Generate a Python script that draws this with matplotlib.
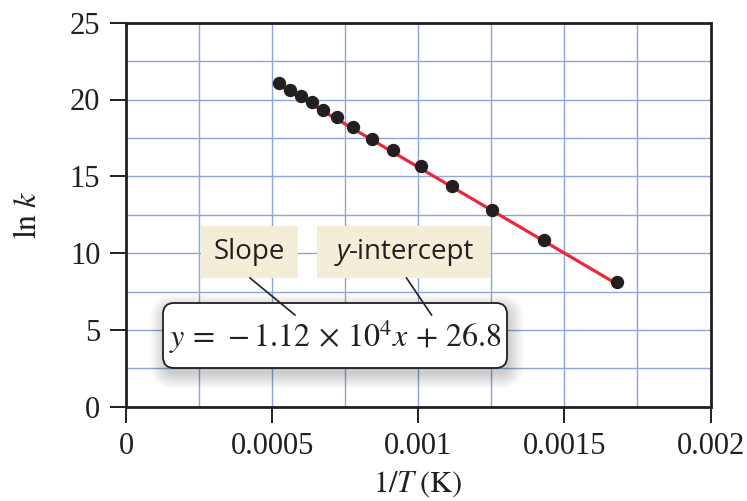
import matplotlib
matplotlib.use('Agg')
import matplotlib.pyplot as plt
from matplotlib.patches import FancyBboxPatch, Rectangle
from matplotlib.lines import Line2D
import numpy as np

# data
inv_T = [0.000525, 0.000561, 0.000598, 0.000635, 0.000675, 0.000721, 0.000776,
         0.000842, 0.000915, 0.001008, 0.001115, 0.001253, 0.001430, 0.001679]
ln_k = [21.07, 20.59, 20.25, 19.81, 19.34, 18.84, 18.18,
        17.43, 16.71, 15.65, 14.39, 12.83, 10.83, 8.09]
slope = -1.12e4
intercept = 26.8
x_ticks = [0, 0.0005, 0.001, 0.0015, 0.002]
x_tick_labels = ['0', '0.0005', '0.001', '0.0015', '0.002']
y_ticks = [0, 5, 10, 15, 20, 25]

plt.rcParams['mathtext.fontset'] = 'stix'
serif = 'Liberation Serif'
ink = '#231f20'
W, H = 747, 501

fig = plt.figure(figsize=(W / 100, H / 100), dpi=100)
ax = fig.add_axes([126 / W, (H - 406.7) / H, 584.5 / W, 384 / H])

ax.set_xlim(0, 0.002)
ax.set_ylim(0, 25)
ax.set_xticks(x_ticks)
ax.set_xticklabels(x_tick_labels)
ax.set_yticks(y_ticks)
ax.set_xticks(np.arange(0, 0.00201, 0.00025), minor=True)
ax.set_yticks(np.arange(0, 25.1, 2.5), minor=True)
ax.grid(which='both', color='#8ea6d4', lw=1.0)
ax.set_axisbelow(True)
ax.tick_params(which='minor', length=0)
ax.tick_params(which='major', direction='out', length=11.5, width=1.4,
               color=ink, labelcolor=ink, pad=7)
for lab in ax.get_xticklabels() + ax.get_yticklabels():
    lab.set_fontfamily(serif)
    lab.set_fontsize(22)
for s in ax.spines.values():
    s.set_linewidth(2)
    s.set_color(ink)

# fit line and points
xs = np.array([inv_T[0], inv_T[-1]])
ax.plot(xs, slope * xs + intercept, color='#e8283c', lw=2.3, zorder=3)
ax.plot(inv_T, ln_k, 'o', color=ink, ms=8.6, zorder=4, clip_on=False)

ax.set_xlabel(r'$1/T\;(\mathrm{K})$', fontsize=22, color=ink)
ax.set_ylabel(r'$\mathrm{ln}\;k$', fontsize=23, color=ink)
ax.xaxis.set_label_coords(0.5, -0.163)
ax.yaxis.set_label_coords(-0.142, 0.5)

# annotation boxes, placed in pixel units
tr = fig.dpi_scale_trans
def P(x, y):
    return (x / 100, (H - y) / 100)

beige = '#f4eed9'
for x0, x1 in [(201, 298), (317, 490)]:
    fig.patches.append(Rectangle(P(x0, 278), (x1 - x0) / 100, 52 / 100,
                                 transform=tr, facecolor=beige, edgecolor='none'))

# soft shadow of equation box
for i in range(10):
    g = 1.6 * i
    fig.patches.append(FancyBboxPatch(P(163 - g + 2, 368 + g + 6),
                                      (344 + 2 * g) / 100, (65 + 2 * g) / 100,
                                      boxstyle='round,pad=0,rounding_size=%f' % ((10 + g) / 100),
                                      transform=tr, facecolor='#000000', alpha=0.02,
                                      edgecolor='none'))
fig.patches.append(FancyBboxPatch(P(163, 368), 344 / 100, 65 / 100,
                                  boxstyle='round,pad=0,rounding_size=0.11',
                                  transform=tr, facecolor='white', edgecolor=ink, lw=1.3))

fig.lines.append(Line2D([250 / 100, 295 / 100], [(H - 278) / 100, (H - 315) / 100],
                        transform=tr, color=ink, lw=1.2))
fig.lines.append(Line2D([406.5 / 100, 431.5 / 100], [(H - 278) / 100, (H - 315) / 100],
                        transform=tr, color=ink, lw=1.2))

sans = 'Open Sans'
fig.text(*P(249.5, 252), 'Slope', transform=tr, ha='center', va='center',
         fontsize=20, family=sans, color=ink)
fig.text(*P(349, 252), 'y', transform=tr, ha='right', va='center',
         fontsize=20, family=sans, style='italic', color=ink)
fig.text(*P(349, 252), '-intercept', transform=tr, ha='left', va='center',
         fontsize=20, family=sans, color=ink)

fig.text(*P(335, 337), r'$y\,=\,-1.12\,\times\,10^{4}x\,+\,26.8$', transform=tr,
         ha='center', va='center', fontsize=23, color=ink)

fig.savefig('out.png', dpi=100)
